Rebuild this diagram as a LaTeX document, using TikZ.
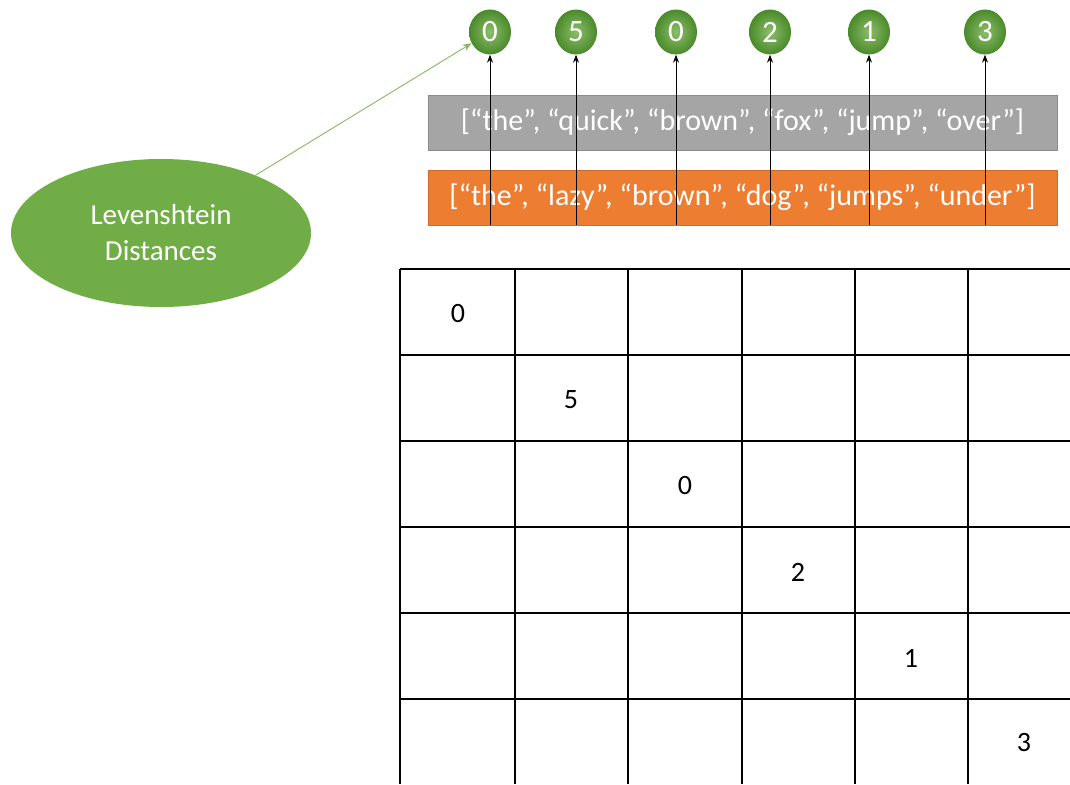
\documentclass[tikz,border=0pt]{standalone}
\usepackage{fontspec}
\setmainfont{Carlito}
\usetikzlibrary{arrows.meta,shapes.geometric}
\definecolor{lgreen}{HTML}{70AD47}
\definecolor{dgreen}{HTML}{4A8A2A}
\definecolor{bgrey}{HTML}{A5A5A5}
\definecolor{bgreyd}{HTML}{8C8C8C}
\definecolor{borange}{HTML}{ED7D31}
\definecolor{borangd}{HTML}{D06A28}
\tikzset{
  dist/.style={ellipse, minimum width=42pt, minimum height=45pt, inner sep=0pt,
    inner color=lgreen!80!white, outer color=dgreen, text=white,
    font=\fontsize{31}{34}\selectfont},
  listbox/.style={rectangle, minimum width=629pt, minimum height=55pt, inner sep=0pt,
    line width=1pt, text=white, font=\fontsize{30}{34}\selectfont},
  gridline/.style={line width=1.4pt, black},
  cellnum/.style={font=\fontsize{28}{30}\selectfont, text=black},
  uparrow/.style={-{Stealth[length=8pt,width=6pt]}, line width=0.9pt, black},
  greenarrow/.style={-{Stealth[length=9pt,width=7pt]}, line width=0.9pt, lgreen!85!white},
}
\begin{document}
\begin{tikzpicture}[x=1pt,y=-1pt]
\useasboundingbox (0,0) rectangle (1070,784);
\fill[white] (0,0) rectangle (1070,784);

% list boxes
\node[listbox, fill=bgrey, draw=bgreyd] (top) at (742.5,122.5) {[“the”, “quick”, “brown”, “fox”, “jump”, “over”]};
\node[listbox, fill=borange, draw=borangd] (bot) at (742.5,197.5) {[“the”, “lazy”, “brown”, “dog”, “jumps”, “under”]};

% distance circles
\node[dist] (c1) at (490,32) {0};
\node[dist] (c2) at (576,32) {5};
\node[dist] (c3) at (676,32) {0};
\node[dist] (c4) at (770,32) {2};
\node[dist] (c5) at (869,32) {1};
\node[dist] (c6) at (985,32) {3};

% arrows
\foreach \i/\x in {1/490,2/576,3/676,4/770,5/869,6/985}{
  \coordinate (b\i) at (\x,225);
  \draw[uparrow] (b\i) -- (c\i);
}

% Levenshtein ellipse
\node[ellipse, fill=lgreen, minimum width=300pt, minimum height=148pt, inner sep=0pt,
  text=white, align=center, font=\fontsize{29}{36}\selectfont] (lev) at (161,233) {Levenshtein\\Distances};
\draw[greenarrow] (lev) -- (c1);

% grid
\foreach \y in {269,355,441,527,613,699}{
  \draw[gridline] (400,\y) -- (1070,\y);
}
\foreach \x in {400,515,628,742,855,968}{
  \draw[gridline] (\x,269) -- (\x,784);
}
\node[cellnum] (n1) at (458,314) {0};
\node[cellnum] (n2) at (571,400) {5};
\node[cellnum] (n3) at (685,486) {0};
\node[cellnum] (n4) at (798,572) {2};
\node[cellnum] (n5) at (911,658) {1};
\node[cellnum] (n6) at (1024,743) {3};
\end{tikzpicture}
\end{document}
